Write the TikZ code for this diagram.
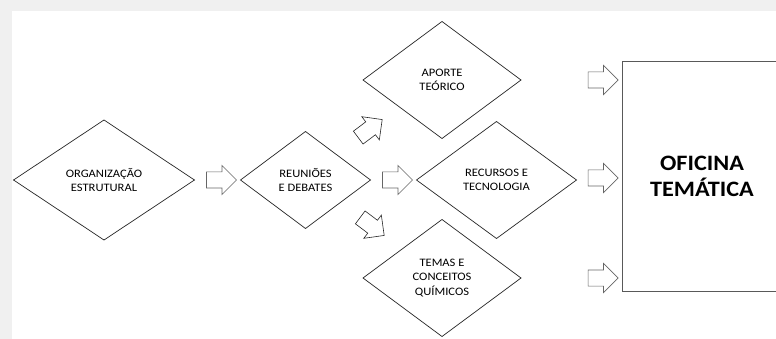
\documentclass[tikz,border=0pt]{standalone}
\usepackage{fontspec}
\setmainfont{Carlito}[FakeStretch=1.1]
\usetikzlibrary{shapes.geometric,shapes.arrows,positioning,calc}

\begin{document}
\begin{tikzpicture}[x=1pt, y=-1pt,
    etapa/.style = {diamond, draw=black!85, line width=0.7pt, inner sep=0pt, outer sep=0pt,
                    align=center, font=\fontsize{11.4}{14.3}\selectfont},
    seta/.style  = {single arrow, draw=black!60, line width=0.6pt, fill=white,
                    inner xsep=0pt, inner ysep=7.75pt, outer sep=0pt,
                    minimum height=30pt, single arrow head extend=6.5pt}]
    % fundo
    \fill[black!6] (0,0) rectangle (776,339);
    \fill[white] (12,11) rectangle (776,339);
    \useasboundingbox (0,0) rectangle (776,339);
    \clip (0,0) rectangle (776,339);

    % etapas
    \node[etapa, minimum width=181pt, minimum height=120pt] (org) at (104,180) {ORGANIZAÇÃO\\ESTRUTURAL};
    \node[etapa, minimum width=130pt, minimum height=97pt, right=46pt of org] (reu) {REUNIÕES\\E DEBATES};
    \node[etapa, minimum width=160pt, minimum height=117pt, right=46pt of reu] (rec) {RECURSOS E\\TECNOLOGIA};
    \node[etapa, minimum width=158pt, minimum height=117pt] (apo) at (442,80) {APORTE\\TEÓRICO};
    \node[etapa, minimum width=158pt, minimum height=117pt] (tem) at (442,278) {TEMAS E\\CONCEITOS\\QUÍMICOS};
    \node[draw=black!65, line width=0.8pt, minimum width=160pt, minimum height=230pt, align=center,
          font=\bfseries\fontsize{22}{26}\selectfont] (ofi) at (702,176) {OFICINA\\TEMÁTICA};

    % setas
    \node[seta] (s1) at ($(org.east)!0.5!(reu.west)$) {};
    \node[seta] (s2) at ($(reu.east)!0.5!(rec.west)$) {};
    \node[seta] (s3) at ($(rec.east)!0.5!(ofi.west)$) {};
    \node[seta] (s4) at (s3 |- apo) {};
    \node[seta] (s5) at (s3 |- tem) {};
    \node[seta, draw=black!85, rotate=37] (s6) at (367,131) {};
    \node[seta, draw=black!85, rotate=-37] (s7) at (369,224) {};
\end{tikzpicture}
\end{document}
